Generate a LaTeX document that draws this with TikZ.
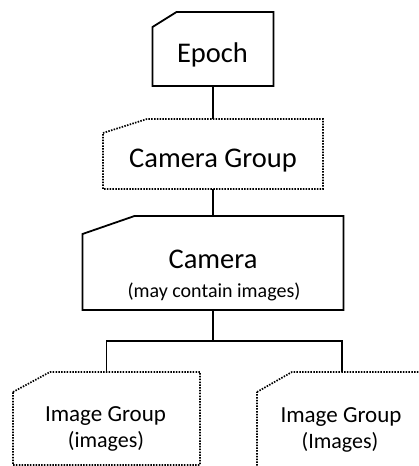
\documentclass[tikz,border=0pt]{standalone}
\usepackage{fontspec}
\setmainfont{Carlito}
\usetikzlibrary{calc}
\begin{document}
\begin{tikzpicture}[x=1pt,y=-1pt,
  box/.style={rectangle, inner sep=0pt, outer sep=0pt},
  solidline/.style={line width=1.8pt, line join=miter},
  dotline/.style={line width=1.7pt, dash pattern=on 1.5pt off 1.3pt},
  conn/.style={line width=1.8pt},
  big/.style={anchor=base, inner sep=0pt, font=\fontsize{28.5}{34}\selectfont},
  small/.style={anchor=base, inner sep=0pt, font=\fontsize{20}{24}\selectfont},
  mid/.style={anchor=base, inner sep=0pt, font=\fontsize{23}{28}\selectfont},
  midb/.style={anchor=base, inner sep=0pt, font=\fontsize{22}{26}\selectfont}]
\path[use as bounding box] (0,0) rectangle (419,466);
\clip (0,0) rectangle (419,466);
% box frames
\node[box, minimum width=121pt, minimum height=74pt] (epoch) at (213,49) {};
\node[box, minimum width=220pt, minimum height=70pt] (cg) at (213,154) {};
\node[box, minimum width=261pt, minimum height=94pt] (camera) at (213,263) {};
\node[box, minimum width=187pt, minimum height=93pt] (ig1) at (106.5,418.5) {};
\node[box, minimum width=170pt, minimum height=108pt] (ig2) at (342,426) {};
% outlines
\draw[solidline] ($(epoch.north west)+(0,15)$) -- ($(epoch.north west)+(24,0)$) -- (epoch.north east) -- (epoch.south east) -- (epoch.south west) -- cycle;
\draw[dotline] ($(cg.north west)+(0,14)$) -- ($(cg.north west)+(44,0)$) -- (cg.north east) -- (cg.south east) -- (cg.south west) -- cycle;
\draw[solidline] ($(camera.north west)+(0,18)$) -- ($(camera.north west)+(52,0)$) -- (camera.north east) -- (camera.south east) -- (camera.south west) -- cycle;
\draw[dotline] ($(ig1.north west)+(0,20)$) -- ($(ig1.north west)+(37,0)$) -- (ig1.north east) -- (ig1.south east) -- (ig1.south west) -- cycle;
\draw[dotline] ($(ig2.north west)+(0,20)$) -- ($(ig2.north west)+(35,0)$) -- (ig2.north east) -- (ig2.south east) -- (ig2.south west) -- cycle;
% texts
\node[big] (epochtxt) at (212.5,62) {Epoch};
\node[big] (cgtxt) at (213,167) {Camera Group};
\node[big] (camtxt) at (213,268) {Camera};
\node[small] (camsub) at (214,297) {(may contain images)};
\node[mid] (ig1txt) at (105.5,421) {Image Group};
\node[midb] (ig1sub) at (106,447) {(images)};
\node[mid] (ig2txt) at (341,422) {Image Group};
\node[midb] (ig2sub) at (340,448) {(Images)};
% connectors
\coordinate (split) at (213,341);
\draw[conn] (epoch.south) -- (cg.north);
\draw[conn] (cg.south) -- (camera.north);
\draw[conn] (camera.south) -- (split);
\draw[conn] (ig1.north) |- (split) -| (ig2.north);
\end{tikzpicture}
\end{document}
